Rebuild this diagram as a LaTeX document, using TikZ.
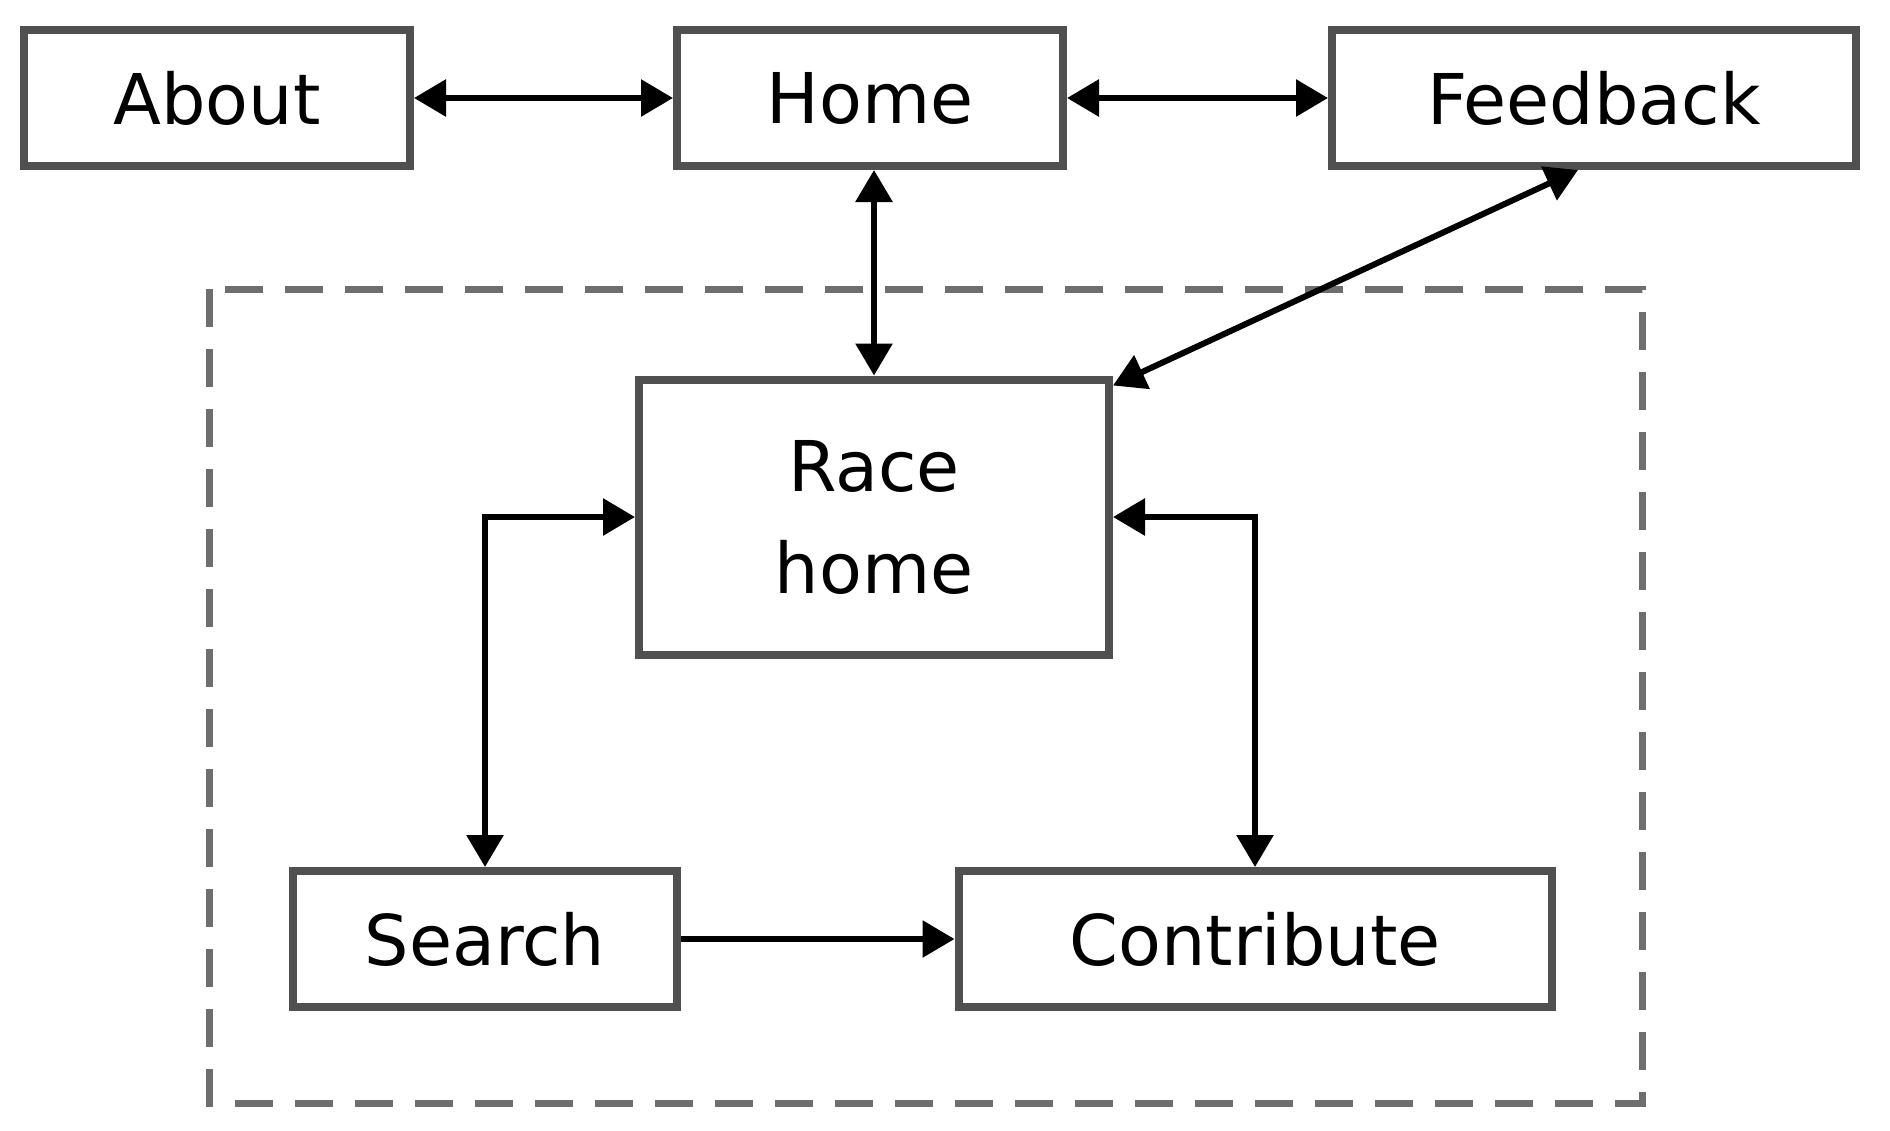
\documentclass[tikz,border=0pt]{standalone}
\usepackage{fontspec}
\setmainfont{DejaVu Sans}
\usetikzlibrary{arrows.meta}
\definecolor{boxgray}{RGB}{80,80,80}
\definecolor{dashgray}{RGB}{110,110,110}

\begin{document}
\begin{tikzpicture}[x=0.5pt, y=-0.5pt, >={Triangle[length=16pt,width=18pt]},
  page/.style={draw=boxgray, line width=4pt, fill=white, inner sep=0pt,
    minimum height=68pt, align=center, font=\fontsize{35}{51}\selectfont},
  link/.style={line width=3pt}]
\useasboundingbox (0,0) rectangle (1890,1130);

% race section
\draw[dashgray, line width=3.5pt, dash pattern=on 19pt off 11pt] (209,289) rectangle (1642,1103);

\node[page, minimum width=193pt] (about) at (217,98) {About};
\node[page, minimum width=193pt] (home) at (870,98) {Home};
\node[page, minimum width=262pt] (feedback) at (1594,98) {Feedback};
\node[page, minimum width=235pt, minimum height=137.5pt] (race) at (874,517) {Race\\home};
\node[page, minimum width=192pt] (search) at (485,939) {Search};
\node[page, minimum width=296.5pt] (contribute) at (1255,939) {Contribute};

\draw[link, <->] (about) -- (home);
\draw[link, <->] (home) -- (feedback);
\draw[link, <->] (home.south -| race.north) -- (race.north);
\draw[link, <->] ([xshift=-8pt]feedback.south) -- ([yshift=-5pt]race.north east);
\draw[link, <->] (race.west) -| (search.north);
\draw[link, <->] (race.east) -| (contribute.north);
\draw[link, ->] (search) -- (contribute);
\end{tikzpicture}
\end{document}
